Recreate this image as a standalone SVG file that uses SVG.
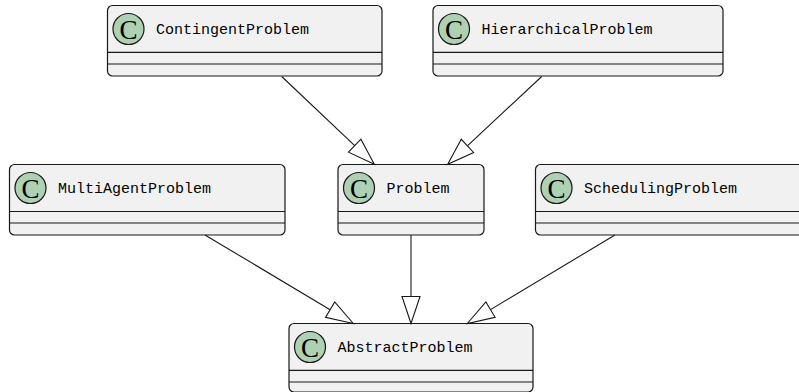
<svg xmlns="http://www.w3.org/2000/svg" width="799" height="392" viewBox="0 0 799 392">
<style>
.box{fill:#F1F1F1;stroke:#181818;stroke-width:1.2}
.sep{stroke:#181818;stroke-width:1.2}
.ic{fill:#ADD1B2;stroke:#181818;stroke-width:1.2}
.icl{font-family:"Liberation Serif",serif;font-size:27px;fill:#000;text-anchor:middle}
.nm{font-family:"Liberation Mono",monospace;font-size:15px;fill:#000}
.edge{stroke:#181818;stroke-width:1.1;fill:none}
.head{fill:none;stroke:#181818;stroke-width:1.1;stroke-linejoin:miter}
</style>
<rect width="799" height="392" fill="#FFFFFF"/>
<g id="ContingentProblem">
<rect class="box" x="107.5" y="5.5" width="274.5" height="70.5" rx="5"/>
<line class="sep" x1="107.5" y1="52.3" x2="382" y2="52.3"/>
<line class="sep" x1="107.5" y1="64" x2="382" y2="64"/>
<circle class="ic" cx="128.5" cy="29" r="15.5"/>
<text class="icl" x="128.5" y="38.5">C</text>
<text class="nm" x="156" y="34">ContingentProblem</text>
</g>
<g id="HierarchicalProblem">
<rect class="box" x="433" y="5.5" width="290" height="70.5" rx="5"/>
<line class="sep" x1="433" y1="52.3" x2="723" y2="52.3"/>
<line class="sep" x1="433" y1="64" x2="723" y2="64"/>
<circle class="ic" cx="454" cy="29" r="15.5"/>
<text class="icl" x="454" y="38.5">C</text>
<text class="nm" x="481.5" y="34">HierarchicalProblem</text>
</g>
<g id="MultiAgentProblem">
<rect class="box" x="9.5" y="164.5" width="275.5" height="70.5" rx="5"/>
<line class="sep" x1="9.5" y1="211.5" x2="285" y2="211.5"/>
<line class="sep" x1="9.5" y1="223" x2="285" y2="223"/>
<circle class="ic" cx="30.5" cy="188" r="15.5"/>
<text class="icl" x="30.5" y="197.5">C</text>
<text class="nm" x="58" y="193">MultiAgentProblem</text>
</g>
<g id="Problem">
<rect class="box" x="338" y="164.5" width="146" height="70.5" rx="5"/>
<line class="sep" x1="338" y1="211.5" x2="484" y2="211.5"/>
<line class="sep" x1="338" y1="223" x2="484" y2="223"/>
<circle class="ic" cx="359" cy="188" r="15.5"/>
<text class="icl" x="359" y="197.5">C</text>
<text class="nm" x="386.5" y="193">Problem</text>
</g>
<g id="SchedulingProblem">
<rect class="box" x="535.5" y="164.5" width="275" height="70.5" rx="5"/>
<line class="sep" x1="535.5" y1="211.5" x2="810.5" y2="211.5"/>
<line class="sep" x1="535.5" y1="223" x2="810.5" y2="223"/>
<circle class="ic" cx="556.5" cy="188" r="15.5"/>
<text class="icl" x="556.5" y="197.5">C</text>
<text class="nm" x="584" y="193">SchedulingProblem</text>
</g>
<g id="AbstractProblem">
<rect class="box" x="289" y="323.5" width="244" height="68.5" rx="5"/>
<line class="sep" x1="289" y1="370.3" x2="533" y2="370.3"/>
<line class="sep" x1="289" y1="382" x2="533" y2="382"/>
<circle class="ic" cx="310" cy="347" r="15.5"/>
<text class="icl" x="310" y="356.5">C</text>
<text class="nm" x="337.5" y="352">AbstractProblem</text>
</g>
<g id="connectors">
<line class="edge" x1="281.7" y1="76.5" x2="354.7" y2="145.7"/>
<polygon class="head" points="374.3,164.3 348.5,152.2 360.9,139.2"/>
<line class="edge" x1="541.7" y1="76.5" x2="467.4" y2="145.9"/>
<polygon class="head" points="447.7,164.3 461.3,139.3 473.6,152.5"/>
<line class="edge" x1="205" y1="235" x2="330.1" y2="309.7"/>
<polygon class="head" points="353.3,323.5 325.5,317.4 334.7,302"/>
<line class="edge" x1="411" y1="235" x2="411" y2="296.5"/>
<polygon class="head" points="411,323.5 402,296.5 420,296.5"/>
<line class="edge" x1="615" y1="235" x2="490.5" y2="309.6"/>
<polygon class="head" points="467.3,323.5 485.9,301.9 495.1,317.3"/>
</g>
</svg>
